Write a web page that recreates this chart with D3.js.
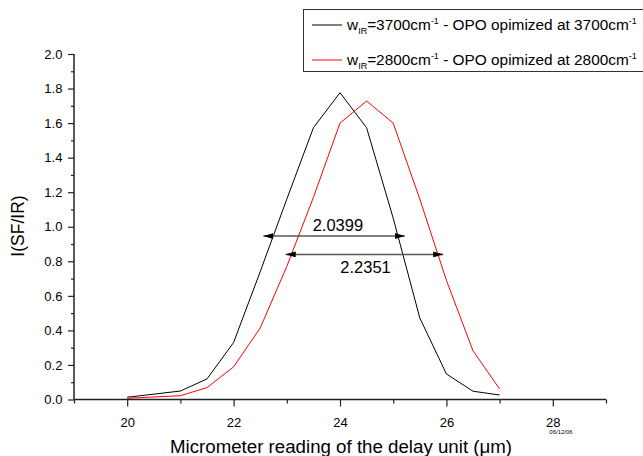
<!DOCTYPE html>
<html><head><meta charset="utf-8">
<script src="https://cdn.jsdelivr.net/npm/d3@7"></script>
<style>body{margin:0;background:#fff}svg{display:block}text{font-family:"Liberation Sans",Arial,sans-serif}</style>
</head><body>
<svg id="c" width="643" height="456"></svg>
<script>
// ---- data ----
const delay = [20,21,21.5,22,22.5,23,23.5,24,24.5,25,25.5,26,26.5,27];
const sig3700 = [0.013,0.049,0.119,0.33,0.74,1.16,1.573,1.776,1.573,1.05,0.472,0.148,0.048,0.026];
const sig2800 = [0.007,0.022,0.069,0.189,0.414,0.77,1.17,1.60,1.728,1.60,1.16,0.69,0.282,0.061];
const seriesNames = ["3700","2800"];
const seriesColors = ["#000000","#ff0000"];
const xTickLabels = [20,22,24,26,28];
const yTickLabels = [0,0.2,0.4,0.6,0.8,1.0,1.2,1.4,1.6,1.8,2.0];
const arrowX1 = [22.56, 22.98];
const arrowX2 = [25.22, 25.94];
const arrowY = [0.946, 0.84];
const arrowLabels = ["2.0399","2.2351"];
const arrowLabelX = [23.96, 24.48];
const arrowLabelY = [0.977, 0.734];

const svg = d3.select("#c");
const x = d3.scaleLinear().domain([19,29]).range([74,606]);
const y = d3.scaleLinear().domain([0,2]).range([399.5,54]);

// axes
const xMajor = d3.axisBottom(x).tickValues(xTickLabels).tickSize(7).tickFormat(d3.format("d"));
const xMinor = d3.axisBottom(x).tickValues([19,21,23,25,27,29]).tickSize(4).tickFormat("");
const yMajor = d3.axisLeft(y).tickValues(yTickLabels).tickSize(6).tickFormat(d3.format(".1f"));
const yMinor = d3.axisLeft(y).tickValues(d3.range(1,20,2).map(v=>v/10)).tickSize(3).tickFormat("");

function style(g, fs){
  g.selectAll(".domain").attr("stroke","#222").attr("stroke-width",1.5);
  g.selectAll(".tick line").attr("stroke","#222").attr("stroke-width",1.2);
  g.selectAll(".tick text").attr("font-size",fs).attr("fill","#000").attr("font-family","Liberation Sans, Arial, sans-serif");
}
const gx = svg.append("g").attr("transform",`translate(0,${y(0)})`).call(xMajor);
style(gx,13); gx.selectAll(".tick text").attr("dy","1.35em");
const gx2 = svg.append("g").attr("transform",`translate(0,${y(0)})`).call(xMinor);
style(gx2,13); gx2.select(".domain").remove();
const gy = svg.append("g").attr("transform",`translate(${x(19)},0)`).call(yMajor);
style(gy,13); gy.selectAll(".tick text").attr("dx","-0.2em");
const gy2 = svg.append("g").attr("transform",`translate(${x(19)},0)`).call(yMinor);
style(gy2,13); gy2.select(".domain").remove();
gx.select(".domain").attr("d",`M${x(19)},0H${x(29)}`);
gy.select(".domain").attr("d",`M0,${y(2)}V${y(0)}`);

// lines
const line = d3.line().x((d,i)=>x(delay[i])).y(d=>y(d));
[sig3700, sig2800].forEach((s,k)=>{
  svg.append("path").datum(s).attr("d",line).attr("fill","none")
    .attr("stroke",seriesColors[k]).attr("stroke-width",1);
});

// arrows
const defs = svg.append("defs");
defs.append("marker").attr("id","ah").attr("viewBox","0 0 10 6").attr("refX",10).attr("refY",3)
  .attr("markerWidth",10).attr("markerHeight",6).attr("markerUnits","userSpaceOnUse").attr("orient","auto-start-reverse")
  .append("path").attr("d","M0,0L10,3L0,6Z").attr("fill","#000");
arrowY.forEach((v,i)=>{
  svg.append("line").attr("x1",x(arrowX1[i])).attr("x2",x(arrowX2[i])).attr("y1",y(v)).attr("y2",y(v))
    .attr("stroke","#555").attr("stroke-width",1.5)
    .attr("marker-start","url(#ah)").attr("marker-end","url(#ah)");
  svg.append("text").attr("x",x(arrowLabelX[i])).attr("y",y(arrowLabelY[i])).attr("text-anchor","middle")
    .attr("font-size",16.5).text(arrowLabels[i]);
});

// axis titles
svg.append("text").attr("x",341).attr("y",453).attr("text-anchor","middle").attr("font-size",18.7)
  .text("Micrometer reading of the delay unit (\u03bcm)");
svg.append("text").attr("transform","translate(24,226) rotate(-90)").attr("text-anchor","middle").attr("font-size",17.5)
  .text("I(SF/IR)");
svg.append("text").attr("x",561).attr("y",434).attr("text-anchor","middle").attr("font-size",6).text("06/12/06");

// legend
const lg = svg.append("g");
lg.append("rect").attr("x",303.5).attr("y",9.5).attr("width",345).attr("height",62)
  .attr("fill","#fff").attr("stroke","#333").attr("stroke-width",1);
const rowY = [25, 60];
seriesNames.forEach((n,i)=>{
  lg.append("line").attr("x1",312).attr("x2",342).attr("y1",rowY[i]).attr("y2",rowY[i])
    .attr("stroke",seriesColors[i]).attr("stroke-width",1);
  const t = lg.append("text").attr("x",347).attr("y",rowY[i]+5).attr("font-size",15.4);
  t.append("tspan").text("w");
  t.append("tspan").attr("font-size",9).attr("dy",4).text("IR");
  t.append("tspan").attr("dy",-4).text(`=${n}cm`);
  t.append("tspan").attr("font-size",9).attr("dy",-6).text("-1");
  t.append("tspan").attr("dy",6).text(` - OPO opimized at ${n}cm`);
  t.append("tspan").attr("font-size",9).attr("dy",-6).text("-1");
});
</script>
</body></html>
